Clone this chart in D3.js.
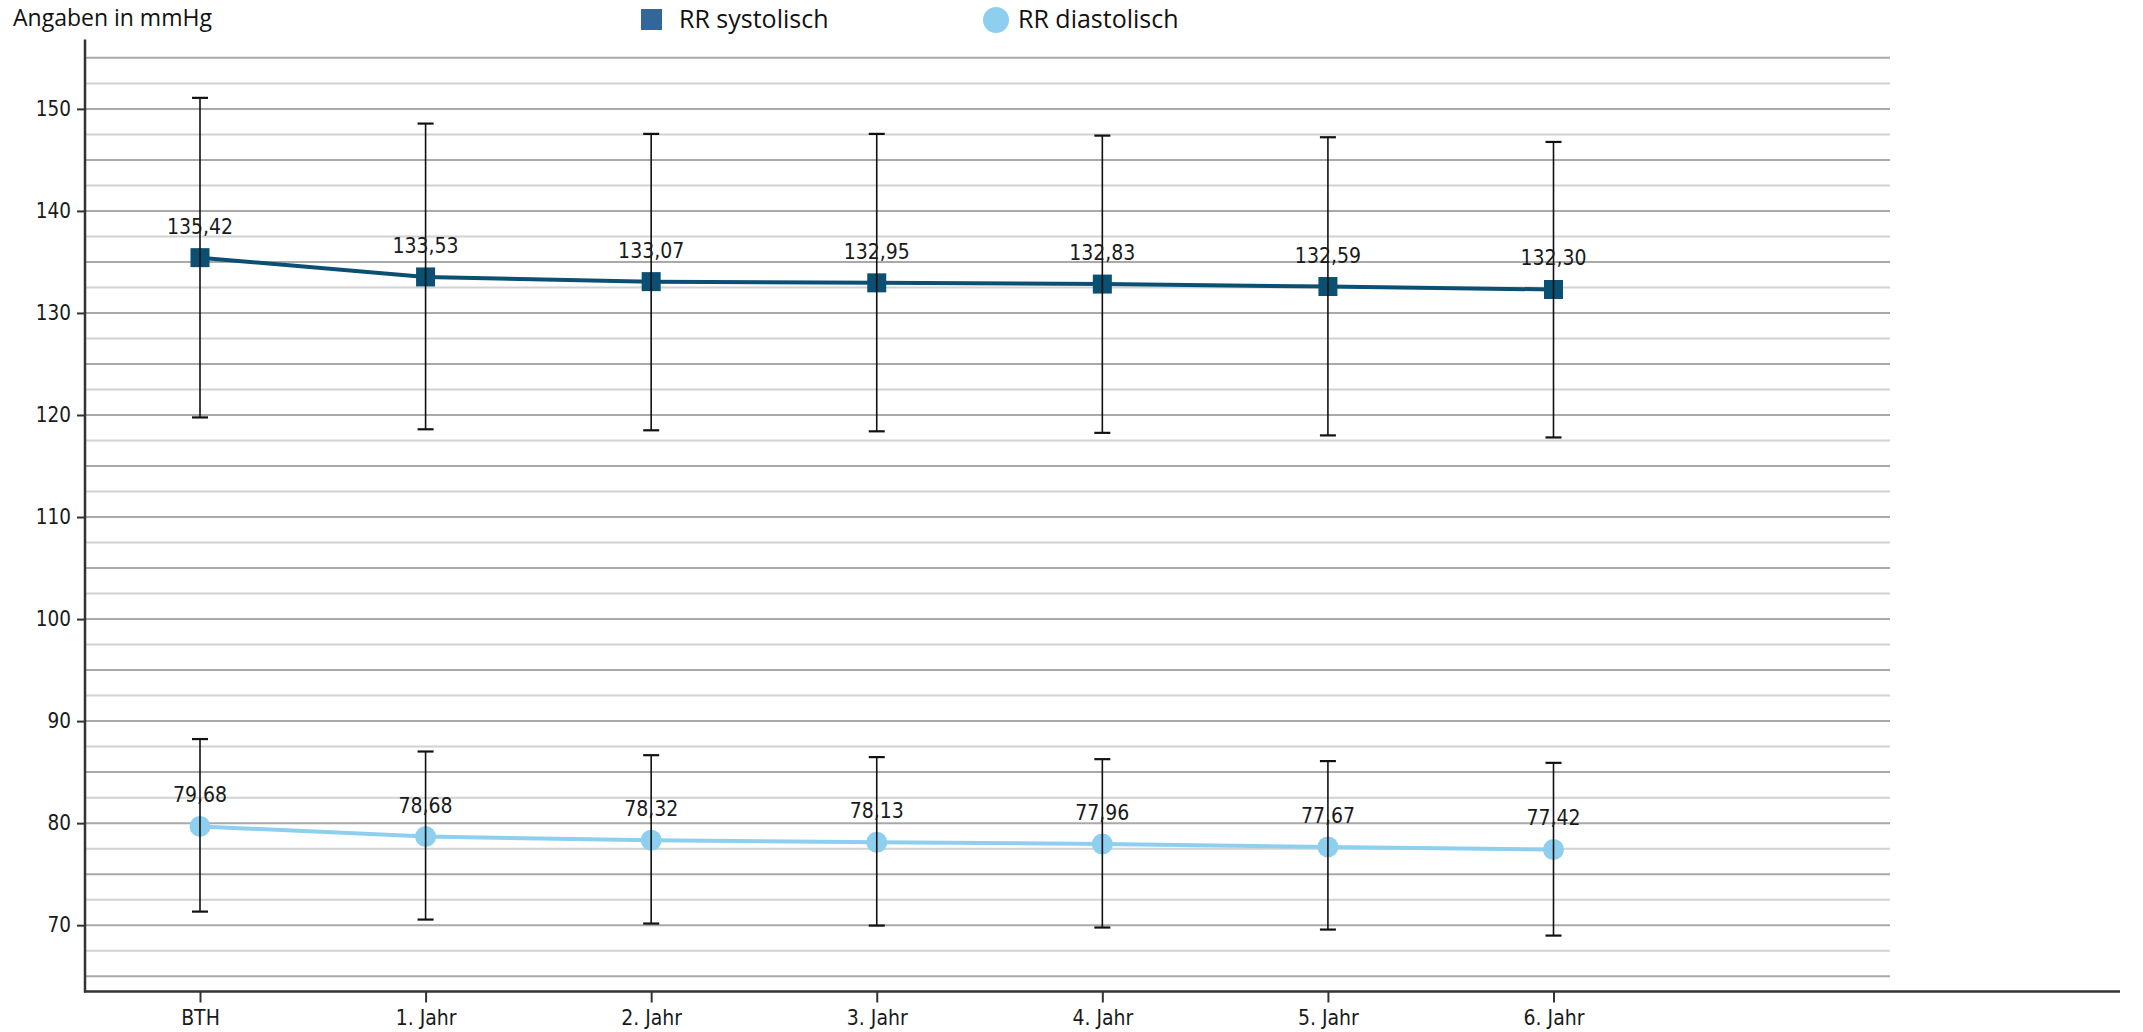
<!DOCTYPE html>
<html>
<head>
<meta charset="utf-8">
<script src="https://cdn.jsdelivr.net/npm/d3@7"></script>
<style>
  html, body { margin: 0; padding: 0; background: #ffffff; }
  svg { display: block; }
  .num { font-family: "DejaVu Sans Condensed", "DejaVu Sans", sans-serif; font-stretch: condensed; fill: #1a1a1a; }
  .ui { font-family: "Open Sans", "Noto Sans", sans-serif; fill: #111; }
</style>
</head>
<body>
<svg id="chart" width="2143" height="1032"></svg>
<script>
// ---- data ----
const categories = ["BTH", "1. Jahr", "2. Jahr", "3. Jahr", "4. Jahr", "5. Jahr", "6. Jahr"];
const sysMean  = [135.42, 133.53, 133.07, 132.95, 132.83, 132.59, 132.30];
const sysUpper = [151.08, 148.56, 147.55, 147.55, 147.38, 147.22, 146.76];
const sysLower = [119.76, 118.60, 118.50, 118.40, 118.25, 118.00, 117.80];
const diaMean  = [79.68, 78.68, 78.32, 78.13, 77.96, 77.67, 77.42];
const diaUpper = [88.24, 87.02, 86.66, 86.47, 86.27, 86.08, 85.91];
const diaLower = [71.33, 70.55, 70.16, 69.96, 69.77, 69.57, 68.98];
const yTickValues = [70, 80, 90, 100, 110, 120, 130, 140, 150];
const gridValues = [65, 67.5, 70, 72.5, 75, 77.5, 80, 82.5, 85, 87.5, 90, 92.5, 95, 97.5, 100,
  102.5, 105, 107.5, 110, 112.5, 115, 117.5, 120, 122.5, 125, 127.5, 130, 132.5, 135, 137.5,
  140, 142.5, 145, 147.5, 150, 152.5, 155];
const yLabel = "Angaben in mmHg";
const seriesNames = ["RR systolisch", "RR diastolisch"];

// ---- layout ----
const svg = d3.select("#chart");
const plotLeft = 85, plotBottom = 991.5, plotTop = 39.5, gridRight = 1890, axisRight = 2120;
const sysColor = "#0b4f72", sysLegend = "#336699", diaColor = "#8ecff0";

const x = d3.scalePoint().domain(categories).range([200, 1553.5]);
const y = d3.scaleLinear().domain([63.5, 156.8]).range([plotBottom, plotTop]);
const fmt = v => d3.format(".2f")(v).replace(".", ",");

// gridlines
svg.append("g").selectAll("line").data(gridValues).join("line")
  .attr("x1", plotLeft).attr("x2", gridRight)
  .attr("y1", d => y(d)).attr("y2", d => y(d))
  .attr("stroke", d => (d % 5 === 0) ? "#a9a9a9" : "#d2d2d2")
  .attr("stroke-width", 2);

// y axis
const yAxis = svg.append("g").attr("transform", `translate(${plotLeft},0)`)
  .call(d3.axisLeft(y).tickValues(yTickValues).tickSize(8).tickPadding(6).tickFormat(d3.format("d")));
yAxis.select(".domain").remove();
yAxis.selectAll(".tick line").attr("stroke", "#333").attr("stroke-width", 2);
yAxis.selectAll(".tick text").attr("class", "num").style("font-size", "20.5px").attr("fill", "#1a1a1a");
svg.append("line").attr("x1", plotLeft).attr("x2", plotLeft)
  .attr("y1", plotTop).attr("y2", plotBottom + 1)
  .attr("stroke", "#333").attr("stroke-width", 2.5);

// x axis
const xAxis = svg.append("g").attr("transform", `translate(0,${plotBottom})`)
  .call(d3.axisBottom(x).tickSize(11).tickPadding(8));
xAxis.select(".domain").remove();
xAxis.selectAll(".tick line").attr("stroke", "#333").attr("stroke-width", 2);
xAxis.selectAll(".tick text").attr("class", "num").style("font-size", "21px").attr("fill", "#1a1a1a");
svg.append("line").attr("x1", plotLeft - 1).attr("x2", axisRight)
  .attr("y1", plotBottom).attr("y2", plotBottom)
  .attr("stroke", "#333").attr("stroke-width", 2.5);

// axis title
svg.append("text").attr("class", "ui").attr("x", 13).attr("y", 26)
  .style("font-size", "23px").text(yLabel);

// series
function drawSeries(mean, upper, lower, color, shape) {
  const g = svg.append("g");
  g.append("path").datum(mean)
    .attr("d", d3.line().x((d, i) => x(categories[i])).y(d => y(d)))
    .attr("fill", "none").attr("stroke", color).attr("stroke-width", 4);
  if (shape === "square") {
    g.selectAll("rect").data(mean).join("rect")
      .attr("x", (d, i) => x(categories[i]) - 9.5).attr("y", d => y(d) - 9.5)
      .attr("width", 19).attr("height", 19).attr("fill", color);
  } else {
    g.selectAll("circle").data(mean).join("circle")
      .attr("cx", (d, i) => x(categories[i])).attr("cy", d => y(d))
      .attr("r", 10.5).attr("fill", color);
  }
  const eb = g.append("g").attr("stroke", "#111").attr("stroke-width", 1.6);
  categories.forEach((c, i) => {
    const cx = x(c);
    eb.append("line").attr("x1", cx).attr("x2", cx).attr("y1", y(upper[i])).attr("y2", y(lower[i]));
    eb.append("line").attr("x1", cx - 8).attr("x2", cx + 8).attr("y1", y(upper[i])).attr("y2", y(upper[i])).attr("stroke-width", 2.2);
    eb.append("line").attr("x1", cx - 8).attr("x2", cx + 8).attr("y1", y(lower[i])).attr("y2", y(lower[i])).attr("stroke-width", 2.2);
  });
  g.selectAll("text.val").data(mean).join("text")
    .attr("class", "num val")
    .attr("x", (d, i) => x(categories[i]))
    .attr("y", d => y(d) - 24)
    .attr("text-anchor", "middle")
    .style("font-size", "21px")
    .text(d => fmt(d));
}
drawSeries(sysMean, sysUpper, sysLower, sysColor, "square");
drawSeries(diaMean, diaUpper, diaLower, diaColor, "circle");

// legend
const lg = svg.append("g");
lg.append("rect").attr("x", 641).attr("y", 9).attr("width", 21).attr("height", 21).attr("fill", sysLegend);
lg.append("text").attr("class", "ui").attr("x", 679).attr("y", 28).style("font-size", "25px").text(seriesNames[0]);
lg.append("circle").attr("cx", 996).attr("cy", 20).attr("r", 13).attr("fill", diaColor);
lg.append("text").attr("class", "ui").attr("x", 1018).attr("y", 28).style("font-size", "25px").text(seriesNames[1]);
</script>
</body>
</html>
